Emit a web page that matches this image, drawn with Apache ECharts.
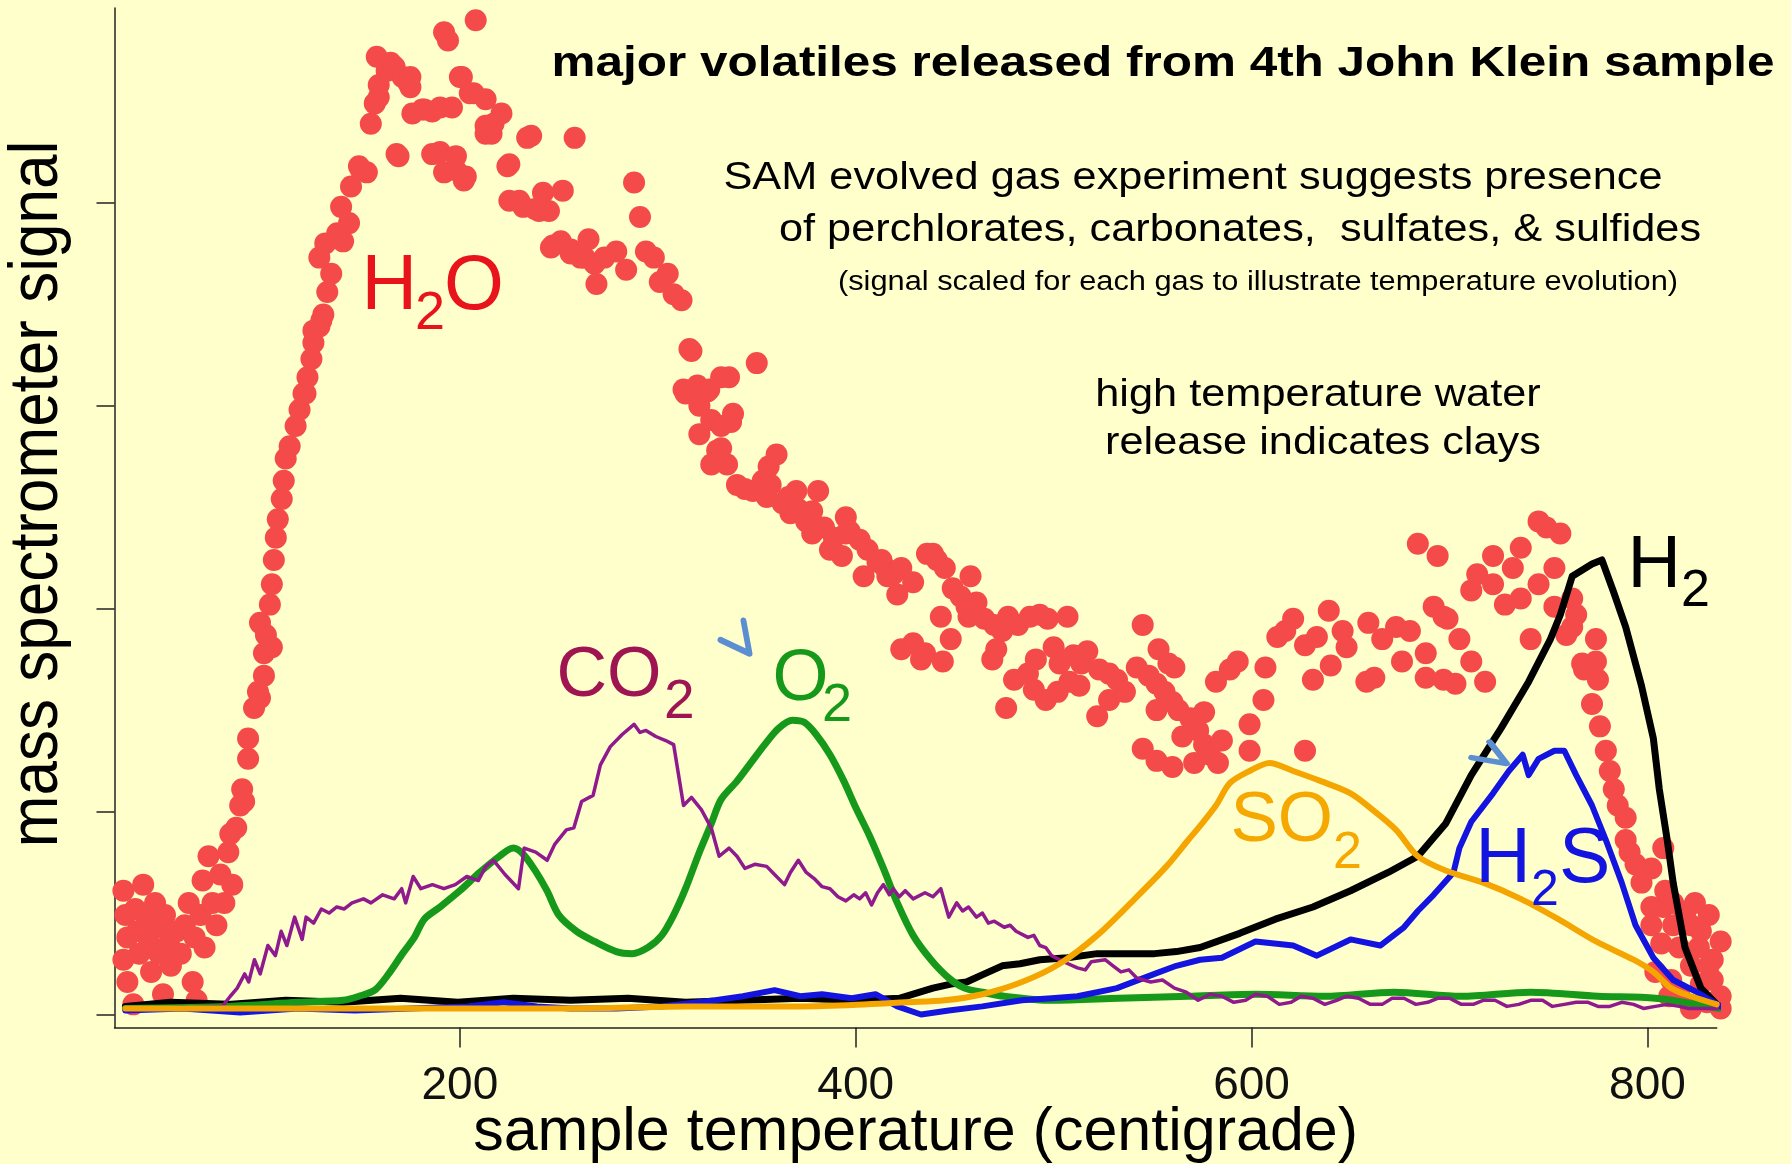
<!DOCTYPE html>
<html>
<head>
<meta charset="utf-8">
<title>major volatiles released from 4th John Klein sample</title>
<script src="https://cdn.jsdelivr.net/npm/echarts@6/dist/echarts.min.js"></script>
<style>
  html, body { margin: 0; padding: 0; background: #FFFFCC; }
  #chart { width: 1791px; height: 1164px; }
</style>
</head>
<body>
<div id="chart"></div>
<script>
// [temperature (C), scaled signal]
const h2o = [
  [30,0.61],[31,0.49],[32,0.38],[30,0.27],[32,0.16],[35,0.05],[36,0.52],[37,0.41],[38,0.30],[40,0.64],
  [41,0.49],[43,0.35],[44,0.21],[46,0.55],[47,0.43],[48,0.30],[50,0.10],[51,0.49],[53,0.35],[54,0.24],
  [57,0.41],[59,0.30],[61,0.44],[63,0.55],[65,0.16],[66,0.38],[67,0.07],[69,0.49],[70,0.66],[71,0.33],
  [73,0.78],[75,0.55],[77,0.44],[79,0.69],[81,0.55],[83,0.80],[85,0.64],[87,0.92],
  [89,1.03],[90,1.11],[84,0.89],[91,1.05],[93,1.26],[93,1.36],[96,1.51],[99,1.56],[98,1.59],[101,1.67],
  [101,1.78],[99,1.93],[105,1.81],[102,1.87],[104,2.02],[105,2.12],[106,2.24],[107,2.35],[108,2.44],
  [110,2.54],[111,2.63],[112,2.74],[114,2.80],[117,2.90],[119,2.98],[122,3.06],[121,3.06],[123,3.14],
  [125,3.23],[126,3.31],[126,3.37],[129,3.39],[130,3.42],[131,3.45],[133,3.56],[135,3.65],[129,3.73],
  [132,3.80],[138,3.85],[141,3.81],[140,3.98],[144,3.90],[145,4.08],[149,4.18],[150,4.16],[153,4.15],
  [155,4.39],[157,4.49],[159,4.52],[158,4.72],[159,4.58],[163,4.65],[165,4.69],[167,4.67],[171,4.62],
  [174,4.59],[175,4.62],[175,4.57],[168,4.24],[169,4.23],[176,4.44],[181,4.46],[182,4.46],[186,4.45],
  [190,4.47],[186,4.24],[190,4.25],[192,4.15],[192,4.84],[194,4.80],[196,4.47],[198,4.16],[198,4.23],
  [200,4.62],[201,4.62],[202,4.11],[203,4.13],[205,4.54],[207,4.54],[208,4.90],[213,4.51],[213,4.38],
  [213,4.34],[216,4.34],[217,4.39],[221,4.44],[224,4.18],[225,4.19],[225,4.01],[230,4.01],[232,3.98],
  [234,4.32],[236,4.33],[238,3.97],[240,3.96],[242,4.05],[245,3.96],[246,3.78],[247,3.79],[251,3.81],
  [252,4.06],[256,3.77],[256,3.75],[258,4.32],[261,3.73],[263,3.73],[265,3.82],[268,3.70],[269,3.60],
  [273,3.73],[279,3.76],[284,3.67],[288,4.10],[291,3.93],[294,3.76],[298,3.73],[301,3.61],[305,3.65],
  [308,3.55],[312,3.52],
  [316,3.28],[317,3.27],[314,3.06],[313,3.08],[320,3.10],[325,3.07],[326,3.08],[332,3.14],[336,3.14],
  [350,3.21],[321,3.00],[321,2.86],[327,2.93],[332,2.90],[337,2.92],[338,2.96],[330,2.78],[332,2.79],
  [327,2.71],[335,2.71],[340,2.61],[344,2.59],[348,2.58],[353,2.63],[355,2.55],[356,2.70],[360,2.76],
  [357,2.61],[363,2.52],[366,2.55],[367,2.47],[370,2.58],[371,2.49],[375,2.43],[378,2.48],[378,2.37],
  [381,2.58],[384,2.40],[387,2.29],[389,2.35],[393,2.26],[395,2.45],[395,2.37],[397,2.38],[402,2.34],
  [404,2.16],[406,2.29],[411,2.23],[413,2.24],[415,2.20],[416,2.16],[419,2.17],[421,2.07],[423,2.20],
  [429,2.13],[436,2.27],[439,2.27],[441,2.24],[445,2.20],[449,2.10],[453,2.06],[456,2.01],[457,1.96],
  [458,2.16],[461,2.03],[465,1.95],[470,1.92],[474,1.89],[477,1.96],[482,1.92],[488,1.96],[493,1.97],
  [497,1.95],[507,1.96],[429,1.83],[433,1.75],[435,1.78],[423,1.80],[444,1.74],[448,1.85],[443,1.96],
  [469,1.75],[471,1.80],[476,1.51],[480,1.65],[487,1.68],[490,1.60],[491,1.75],[496,1.55],[500,1.81],
  [502,1.59],[503,1.73],[508,1.64],[510,1.77],[513,1.62],[514,1.73],[517,1.79],[522,1.47],[523,1.70],
  [528,1.68],[528,1.55],[532,1.65],[536,1.59],[542,1.71],[545,1.92],[548,1.67],[552,1.63],[553,1.80],
  [556,1.59],[558,1.73],[560,1.54],[561,1.71],[552,1.50],[563,1.50],[565,1.37],[569,1.46],[573,1.40],
  [576,1.33],[545,1.31],[552,1.25],[560,1.22],[571,1.24],[579,1.28],[583,1.24],[585,1.35],[576,1.49],
  [582,1.64],[589,1.70],[593,1.74],[599,1.43],[599,1.30],[606,1.55],[607,1.71],[613,1.86],[617,1.89],
  [621,1.95],[627,1.82],[627,1.30],[631,1.65],[633,1.86],[639,1.99],[640,1.72],[646,1.89],[648,1.81],
  [658,1.64],[659,1.93],[662,1.66],[666,1.85],[673,1.91],[676,1.74],[680,1.89],[684,2.32],[688,1.78],
  [688,1.66],[692,2.01],[694,2.26],[697,1.96],[697,1.65],[699,1.95],[703,1.63],[705,1.85],[711,2.09],
  [711,1.74],[714,2.17],[718,1.64],[722,2.26],[722,2.12],[728,2.02],[732,2.20],[736,2.30],[736,2.05],
  [741,1.85],[745,2.43],[745,2.12],[749,2.40],[753,2.20],[753,2.01],[756,2.37],[759,1.87],[762,2.05],
  [764,1.97],[762,1.91],[767,1.73],[768,1.70],[774,1.85],[774,1.74],[775,1.65],[772,1.53],[776,1.42],
  [779,1.30],[781,1.20],[783,1.11],[785,1.03],[789,0.97],[789,0.86],[791,0.80],[794,0.74],[797,0.65],
  [802,0.72],[808,0.82],[802,0.53],[808,0.53],[813,0.44],[822,0.44],[831,0.49],[837,0.36],[822,0.24],
  [831,0.24],[837,0.09],[837,0.03],[822,0.03],[812,0.17],[807,0.35],[816,0.33],[826,0.33],[827,0.15],
  [816,0.11],[833,0.17],[809,0.61],[802,0.44],[804,0.21],[819,0.49],[827,0.41],[833,0.27],[811,0.09],
  [830,0.06],[824,0.55],[813,0.55]
];

const co2 = [
  [31,0.03],[54,0.03],[80,0.04],[84,0.09],[87.5,0.13],[91.3,0.20],[93.3,0.16],[96.2,0.27],[99.1,0.20],
  [103,0.34],[106.8,0.29],[109.7,0.41],[112.6,0.34],[116.5,0.48],[120.3,0.37],[122.3,0.48],[126.1,0.45],
  [130,0.52],[133.9,0.50],[137.8,0.53],[141.6,0.52],[145.5,0.55],[151.3,0.57],[155.1,0.55],[161,0.59],
  [166.8,0.57],[170.6,0.62],[172.6,0.55],[176.4,0.68],[180.3,0.62],[186.1,0.64],[191.9,0.62],[197.7,0.64],
  [203.5,0.68],[209.3,0.66],[213.1,0.73],[217,0.76],[222.8,0.69],[229.6,0.62],[232.5,0.82],[238.3,0.80],
  [244.1,0.76],[248,0.84],[253.8,0.91],[257.6,0.92],[261.5,1.05],[267.3,1.08],[271,1.23],[276,1.32],
  [282,1.38],[288,1.43],[291,1.39],[294,1.40],[299,1.37],[304,1.35],[308,1.33],[313,1.03],[317,1.07],
  [322,1.01],[327,0.92],[331,0.78],[336,0.82],[340,0.78],[344,0.72],[349,0.74],[355,0.73],[359,0.69],
  [364,0.64],[367,0.70],[371,0.76],[375,0.70],[379,0.67],[383,0.63],[387,0.62],[391,0.58],[395,0.56],
  [399,0.59],[402,0.57],[405,0.60],[408,0.54],[411,0.60],[414,0.64],[417,0.59],[419,0.62],[422,0.58],
  [425,0.61],[429,0.57],[435,0.60],[439,0.58],[443,0.62],[447,0.48],[451,0.55],[454,0.51],[457,0.53],
  [461,0.48],[464,0.50],[467,0.45],[470,0.46],[475,0.43],[478,0.44],[481,0.41],[487,0.38],[490,0.39],
  [493,0.34],[496,0.33],[499,0.29],[505,0.26],[512,0.23],[516,0.22],[519,0.26],[526,0.27],[530,0.24],
  [534,0.21],[538,0.22],[542,0.18],[549,0.16],[555,0.17],[561,0.13],[567,0.11],[573,0.07],[579,0.10],
  [585,0.09],[591,0.06],[597,0.07],[602,0.10],[608,0.09],[614,0.05],[620,0.06],[625,0.09],[631,0.08],
  [637,0.05],[643,0.07],[648,0.09],[654,0.08],[660,0.05],[666,0.05],[671,0.08],[677,0.08],[683,0.05],
  [689,0.06],[694,0.08],[700,0.08],[706,0.05],[712,0.05],[717,0.07],[723,0.07],[729,0.04],[735,0.05],
  [741,0.07],[747,0.07],[752,0.04],[758,0.05],[764,0.06],[770,0.06],[775,0.04],[781,0.04],[787,0.06],
  [793,0.05],[798,0.03],[804,0.04],[810,0.05],[816,0.04],[821,0.03],[827,0.03],[836,0.03]
];

const o2 = [
  [31,0.03],[83,0.04],[118,0.06],[141,0.07],[149,0.09],[157,0.12],[164,0.20],[171,0.30],[177,0.38],
  [182,0.47],[190,0.53],[200,0.61],[210,0.70],[220,0.78],[227,0.82],[232,0.79],[238,0.71],[244,0.61],
  [250,0.49],[259,0.41],[268,0.36],[279,0.31],[287,0.30],[295,0.33],[302,0.39],[308,0.49],[314,0.62],
  [321,0.80],[327,0.94],[332,1.06],[340,1.15],[347,1.24],[354,1.33],[361,1.41],[368,1.45],[374,1.44],
  [380,1.38],[387,1.28],[394,1.15],[400,1.02],[407,0.88],[414,0.72],[421,0.55],[429,0.39],[438,0.27],
  [447,0.18],[455,0.13],[464,0.11],[475,0.09],[499,0.07],[533,0.08],[568,0.09],[602,0.10],[637,0.09],
  [672,0.11],[706,0.09],[741,0.11],[775,0.09],[804,0.08],[836,0.03]
];

const h2 = [
  [31,0.04],[54,0.06],[83,0.05],[112,0.07],[141,0.06],[170,0.08],[199,0.06],[227,0.08],[256,0.07],
  [285,0.08],[314,0.06],[343,0.07],[372,0.08],[400,0.07],[422,0.08],[429,0.10],[439,0.13],[448,0.15],
  [456,0.16],[465,0.20],[474,0.24],[483,0.25],[493,0.27],[507,0.28],[522,0.30],[536,0.30],[551,0.30],
  [562,0.31],[574,0.33],[594,0.40],[612,0.47],[631,0.53],[650,0.61],[669,0.70],[684,0.78],[698,0.94],
  [711,1.18],[726,1.41],[740,1.64],[751,1.85],[756,1.97],[762,2.16],[772,2.22],[777,2.24],[783,2.08],
  [789,1.91],[797,1.62],[803,1.36],[806,1.11],[810,0.86],[813,0.65],[819,0.33],[827,0.13],[836,0.04]
];

const h2s = [
  [31,0.02],[60,0.03],[89,0.01],[118,0.03],[147,0.02],[175,0.03],[204,0.04],[222,0.06],[239,0.04],
  [256,0.03],[279,0.03],[302,0.04],[329,0.07],[343,0.09],[359,0.12],[372,0.09],[383,0.10],[398,0.08],
  [410,0.10],[421,0.04],[433,0.00],[447,0.02],[464,0.04],[484,0.07],[499,0.08],[512,0.09],[532,0.13],
  [551,0.20],[562,0.24],[574,0.27],[585,0.28],[602,0.36],[621,0.34],[633,0.29],[650,0.37],[665,0.34],
  [677,0.43],[684,0.51],[692,0.59],[702,0.70],[705,0.82],[711,0.95],[722,1.09],[730,1.20],[737,1.28],
  [740,1.18],[745,1.26],[753,1.30],[758,1.30],[764,1.18],[772,1.03],[779,0.86],[787,0.65],[794,0.44],
  [803,0.28],[813,0.17],[825,0.11],[837,0.04]
];

const so2 = [
  [31,0.03],[83,0.03],[141,0.03],[199,0.03],[256,0.03],[314,0.04],[372,0.04],[406,0.05],[425,0.06],
  [445,0.07],[464,0.10],[484,0.16],[503,0.25],[522,0.39],[541,0.57],[557,0.73],[568,0.86],[574,0.93],
  [582,1.03],[589,1.14],[599,1.20],[609,1.24],[621,1.20],[635,1.15],[650,1.09],[661,1.01],[673,0.91],
  [684,0.78],[698,0.71],[717,0.65],[736,0.57],[755,0.47],[774,0.36],[793,0.27],[803,0.21],[812,0.13],
  [822,0.09],[835,0.05]
];

// chevron markers (centre of each mark, in data units)
const arrowMarks = [[339, 1.86], [720, 1.29]];

const xTicks = [200, 400, 600, 800];
const yTicks = [0, 1, 2, 3, 4];

const FONT = '"Liberation Sans", Arial, Helvetica, sans-serif';

function line(name, data, color, width, smooth) {
  return {
    name: name,
    type: 'line',
    data: data,
    symbol: 'none',
    smooth: smooth,
    clip: false,
    silent: true,
    lineStyle: { color: color, width: width, cap: 'round', join: 'round' },
    itemStyle: { color: color }
  };
}

function txt(x, y, str, size, opt) {
  opt = opt || {};
  return {
    type: 'text',
    x: x,
    y: y,
    rotation: opt.rot || 0,
    scaleX: opt.sx || 1,
    scaleY: opt.sy || 1,
    silent: true,
    z: 20,
    style: {
      text: str,
      fill: opt.color || '#000',
      fontSize: size,
      fontFamily: FONT,
      fontWeight: opt.bold ? 'bold' : 'normal',
      align: opt.align || 'left',
      verticalAlign: 'middle'
    }
  };
}

// gas label built from pieces so the subscript sits lower
function gasLabel(parts, color) {
  return parts.map(p => txt(p[1], p[2], p[0], p[3], { color: color }));
}

const chart = echarts.init(document.getElementById('chart'), null, { renderer: 'canvas' });

chart.setOption({
  backgroundColor: '#FFFFCC',
  animation: false,
  grid: {
    left: 114.5,
    right: 74.3,
    top: 8,
    bottom: 136.5,
    containLabel: false,
    outerBoundsMode: 'none'
  },
  xAxis: {
    type: 'value',
    min: 25.5,
    max: 835,
    name: 'sample temperature (centigrade)',
    nameLocation: 'middle',
    nameGap: 75,
    nameMoveOverlap: false,
    nameTextStyle: { fontSize: 61, fontFamily: FONT, color: '#000' },
    splitLine: { show: false },
    axisLine: { show: true, onZero: false, lineStyle: { color: '#222', width: 1.5 } },
    axisTick: { show: true, length: 20, customValues: xTicks, lineStyle: { color: '#222', width: 1.5 } },
    axisLabel: { customValues: xTicks, fontSize: 46, fontFamily: FONT, color: '#111', margin: 36 }
  },
  yAxis: {
    type: 'value',
    min: -0.064,
    max: 4.96,
    splitLine: { show: false },
    axisLine: { show: true, onZero: false, lineStyle: { color: '#222', width: 1.5 } },
    axisTick: { show: true, length: 18, customValues: yTicks, lineStyle: { color: '#222', width: 1.5 } },
    axisLabel: { show: false }
  },
  series: [
    {
      name: 'H2O',
      type: 'scatter',
      data: h2o,
      symbolSize: 22,
      clip: false,
      silent: true,
      itemStyle: { color: '#F44A4A', opacity: 1 },
      markPoint: {
        silent: true,
        data: [
          { coord: arrowMarks[0], symbol: 'path://M24.5,0 L31,33 L0,19.3', symbolSize: [31, 33] },
          { coord: arrowMarks[1], symbol: 'path://M18,0 L35,27.5 L0,19.9', symbolSize: [35, 27.5] }
        ],
        symbolKeepAspect: true,
        label: { show: false },
        itemStyle: { color: 'rgba(0,0,0,0)', borderColor: '#5B8FD2', borderWidth: 6, borderCap: 'round', borderJoin: 'round' }
      }
    },
    line('H2', h2, '#000000', 7, false),
    line('O2', o2, '#16991A', 7, 0.3),
    line('H2S', h2s, '#1414E0', 6, false),
    line('CO2', co2, '#8E1A8E', 3.5, false),
    line('SO2', so2, '#F5A500', 6, 0.3)
  ],
  graphic: [
    txt(1163, 64, 'major volatiles released from 4th John Klein sample', 43, { bold: true, align: 'center', sx: 1.15 }),
    txt(1193, 179, 'SAM evolved gas experiment suggests presence', 38, { align: 'center', sx: 1.14 }),
    txt(1240, 231, 'of perchlorates, carbonates,  sulfates, & sulfides', 38, { align: 'center', sx: 1.14 }),
    txt(1258, 283, '(signal scaled for each gas to illustrate temperature evolution)', 27, { align: 'center', sx: 1.14 }),
    txt(1318, 396, 'high temperature water', 38, { align: 'center', sx: 1.14 }),
    txt(1323, 444, 'release indicates clays', 38, { align: 'center', sx: 1.14 }),
    txt(37.5, 494, 'mass spectrometer signal', 62, { align: 'center', rot: Math.PI / 2, sy: 1.12 })
  ].concat(
    gasLabel([['H', 361.5, 288, 77], ['2', 415, 314, 54], ['O', 444, 288, 77]], '#E8131B'),
    gasLabel([['CO', 556.5, 676.5, 70], ['2', 664, 703, 55]], '#9E1552'),
    gasLabel([['O', 772.4, 680.6, 72], ['2', 822, 706, 54]], '#16991A'),
    gasLabel([['SO', 1230.5, 821, 71], ['2', 1333, 854, 52]], '#F5A800'),
    gasLabel([['H', 1475.3, 860.7, 77], ['2', 1531, 891, 50], ['S', 1559, 860.7, 77]], '#1414E0'),
    gasLabel([['H', 1627.5, 567, 74], ['2', 1681, 592, 52]], '#000')
  )
});
</script>
</body>
</html>
